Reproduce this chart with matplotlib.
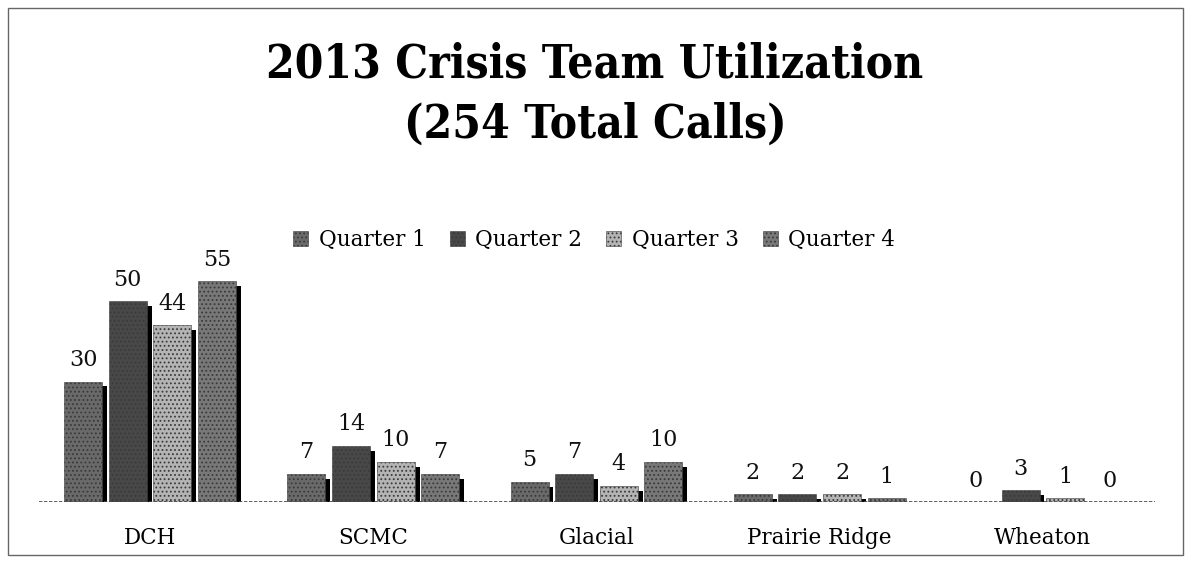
import matplotlib
matplotlib.use("Agg")
import matplotlib.pyplot as plt
import numpy as np
from matplotlib.patches import Rectangle

categories = ["DCH", "SCMC", "Glacial", "Prairie Ridge", "Wheaton"]
series_names = ["Quarter 1", "Quarter 2", "Quarter 3", "Quarter 4"]
q1 = [30, 7, 5, 2, 0]
q2 = [50, 14, 7, 2, 3]
q3 = [44, 10, 4, 2, 1]
q4 = [55, 7, 10, 1, 0]
series = [q1, q2, q3, q4]
colors = ["#6a6a6a", "#484848", "#b4b4b4", "#787878"]

plt.rcParams["hatch.color"] = "#cfcfcf"
plt.rcParams["hatch.linewidth"] = 0.8

W, H = 1190, 570
fig = plt.figure(figsize=(W / 100, H / 100), dpi=100)
fig.patch.set_facecolor("white")

font = "DejaVu Serif"
ax = fig.add_axes([38.5 / W, (H - 502) / H, 1116 / W, 241 / H])
ax.set_xlim(-0.5, 4.5)
ax.set_ylim(0, 60)
for s in ax.spines.values():
    s.set_visible(False)
ax.set_yticks([])
ax.tick_params(axis="x", length=0, pad=18)
x = np.arange(len(categories))
ax.set_xticks(x)
ax.set_xticklabels(categories, fontsize=15.5, family=font)

step = 0.2
bw = 0.17
for i, (vals, c, name) in enumerate(zip(series, colors, series_names)):
    pos = x + (i - 1.5) * step
    ax.bar(pos + 0.022, [max(v - 1.2, 0) if v > 0 else 0 for v in vals], width=bw,
           color="black", zorder=1)
    ax.bar(pos, vals, width=bw, color=c, edgecolor="#3a3a3a", linewidth=0.4,
           hatch="....", zorder=2, label=name)
    for p, v in zip(pos, vals):
        ax.text(p, v + 2.6, str(v), ha="center", va="bottom", fontsize=16,
                family=font, color="#111111")

ax.axhline(0, color="#444444", linewidth=1.2, linestyle=(0, (2, 1)), zorder=3)

leg = ax.legend(loc="center left", bbox_to_anchor=(246 / 1116, (502 - 240) / 241),
                ncol=4, frameon=False, prop={"family": font, "size": 15.5},
                handlelength=0.7, handleheight=0.7, handletextpad=0.5,
                columnspacing=1.1, borderaxespad=0)

for txt, yc in [("2013 Crisis Team Utilization", 65), ("(254 Total Calls)", 125)]:
    fig.text(0.5, 1 - yc / H, txt, ha="center", va="center",
             fontsize=33, fontweight="bold", family=font, fontstretch="condensed")

fig.add_artist(Rectangle((8 / W, 1 - 555 / H), 1175 / W, 547 / H,
                         transform=fig.transFigure, fill=False,
                         edgecolor="#666666", linewidth=1))

fig.savefig("out.png", dpi=100)
